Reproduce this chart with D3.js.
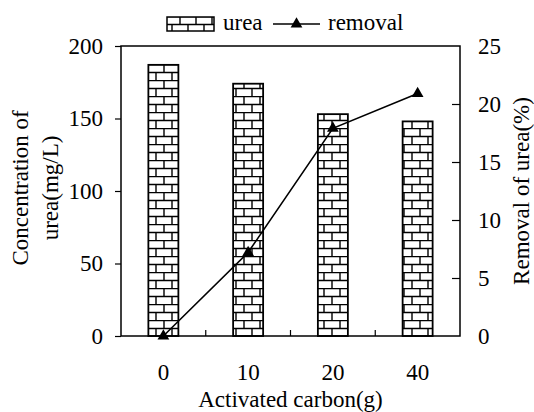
<!DOCTYPE html>
<html>
<head>
<meta charset="utf-8">
<script src="https://cdn.jsdelivr.net/npm/d3@7/dist/d3.min.js"></script>
</head>
<body style="margin:0">
<svg id="chart" width="534" height="412" font-family="Liberation Serif" font-size="23"></svg>
<script>
// data
var carbon = ['0', '10', '20', '40'];
var urea = [187, 174, 153, 148];
var removal = [0, 7.2, 17.9, 20.9];
var leftTicks = [0, 50, 100, 150, 200];
var rightTicks = [0, 5, 10, 15, 20, 25];

var W = 534, H = 412;
var margin = { top: 46, right: 74, bottom: 76, left: 121 };
var textStyle = "font-family:'Liberation Serif';font-size:23px";

var svg = d3.select('#chart');

// brick fill
var pat = svg.append('defs').append('pattern')
    .attr('id', 'brick')
    .attr('patternUnits', 'userSpaceOnUse')
    .attr('width', 16)
    .attr('height', 16)
    .attr('y', margin.top + 2);
pat.append('rect').attr('width', 16).attr('height', 16).attr('fill', '#fff');
pat.append('path')
    .attr('d', 'M0,0.5H16M0,8.5H16M4,0V8M12,8V16')
    .attr('stroke', '#000').attr('stroke-width', 1.4).attr('fill', 'none');

var x = d3.scaleBand()
    .domain(carbon)
    .range([margin.left, W - margin.right])
    .paddingInner(0.646)
    .paddingOuter(0.323);

var y = d3.scaleLinear().domain([0, 200]).range([H - margin.bottom, margin.top]);
var y2 = d3.scaleLinear().domain([0, 25]).range([H - margin.bottom, margin.top]);

// bars
svg.append('g').selectAll('rect')
    .data(urea)
    .enter().append('rect')
    .attr('x', (d, i) => x(carbon[i]))
    .attr('y', d => y(d))
    .attr('width', x.bandwidth())
    .attr('height', d => y(0) - y(d))
    .attr('fill', 'url(#brick)')
    .attr('stroke', '#000')
    .attr('stroke-width', 1.8);

// frame
svg.append('rect')
    .attr('x', margin.left)
    .attr('y', margin.top)
    .attr('width', W - margin.right - margin.left)
    .attr('height', H - margin.bottom - margin.top)
    .attr('fill', 'none')
    .attr('stroke', '#000')
    .attr('stroke-width', 1.5);

// left axis
var gl = svg.append('g')
    .attr('transform', 'translate(' + margin.left + ',0)')
    .call(d3.axisLeft(y).tickValues(leftTicks).tickSize(6).tickPadding(12));
gl.select('.domain').remove();

// right axis, ticks pointing in
var gr = svg.append('g')
    .attr('transform', 'translate(' + (W - margin.right) + ',0)')
    .call(d3.axisRight(y2).tickValues(rightTicks).tickSize(-8).tickPadding(18));
gr.select('.domain').remove();
gr.selectAll('.tick').filter(d => d === 25 || d === 0).select('line').remove();

// bottom labels
var gb = svg.append('g')
    .attr('transform', 'translate(0,' + (H - margin.bottom) + ')')
    .call(d3.axisBottom(x).tickSize(0).tickPadding(28));
gb.select('.domain').remove();

// separator ticks between categories
var step = x.step();
svg.append('g').selectAll('line')
    .data(carbon.slice(0, -1))
    .enter().append('line')
    .attr('x1', d => x(d) + x.bandwidth() + (step - x.bandwidth()) / 2)
    .attr('x2', d => x(d) + x.bandwidth() + (step - x.bandwidth()) / 2)
    .attr('y1', H - margin.bottom)
    .attr('y2', H - margin.bottom - 6)
    .attr('stroke', '#000')
    .attr('stroke-width', 1.2);

svg.selectAll('.tick line').attr('stroke', '#000').attr('stroke-width', 1.2);

// removal line
var line = d3.line()
    .x((d, i) => x(carbon[i]) + x.bandwidth() / 2)
    .y(d => y2(d));

svg.append('path')
    .datum(removal)
    .attr('d', line)
    .attr('fill', 'none')
    .attr('stroke', '#000')
    .attr('stroke-width', 1.6);

var tri = d3.symbol().type(d3.symbolTriangle).size(60);
svg.append('g').selectAll('path')
    .data(removal)
    .enter().append('path')
    .attr('d', tri)
    .attr('transform', (d, i) => 'translate(' + (x(carbon[i]) + x.bandwidth() / 2) + ',' + y2(d) + ')')
    .attr('fill', '#000');

// axis titles
svg.append('text')
    .attr('x', (margin.left + W - margin.right) / 2)
    .attr('y', 407)
    .attr('text-anchor', 'middle')
    .text('Activated carbon(g)');

var lt = svg.append('text')
    .attr('transform', 'translate(28,188) rotate(-90)')
    .attr('text-anchor', 'middle');
lt.append('tspan').attr('x', 0).attr('y', 0).text('Concentration of');
lt.append('tspan').attr('x', 0).attr('y', 30).text('urea(mg/L)');

svg.append('text')
    .attr('transform', 'translate(529,191) rotate(-90)')
    .attr('text-anchor', 'middle')
    .text('Removal of urea(%)');

// legend
var lg = svg.append('g');
lg.append('rect')
    .attr('x', 167).attr('y', 17)
    .attr('width', 47).attr('height', 14)
    .attr('fill', 'url(#brick)')
    .attr('stroke', '#000')
    .attr('stroke-width', 1.5);
lg.append('text').attr('x', 223).attr('y', 30).text('urea');
lg.append('line')
    .attr('x1', 273).attr('x2', 320).attr('y1', 24).attr('y2', 24)
    .attr('stroke', '#000').attr('stroke-width', 1.6);
lg.append('path').attr('d', tri).attr('transform', 'translate(296.5,24)').attr('fill', '#000');
lg.append('text').attr('x', 328).attr('y', 30).text('removal');

// axis groups carry sans-serif defaults; drop them
svg.selectAll('g').attr('font-family', null).attr('font-size', null);
svg.selectAll('text')
    .attr('font-family', 'Liberation Serif')
    .attr('font-size', 23)
    .attr('style', textStyle)
    .attr('fill', '#000');
</script>
</body>
</html>
